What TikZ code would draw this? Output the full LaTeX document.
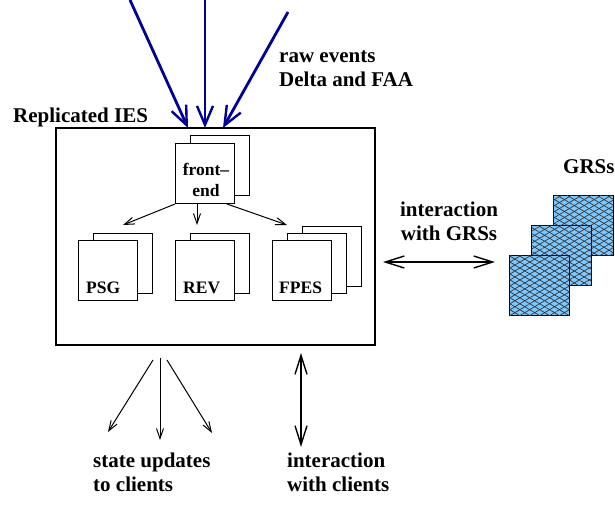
\documentclass[tikz,border=0pt]{standalone}
\usepackage{fontspec}
\setmainfont{Liberation Serif}
\usetikzlibrary{arrows.meta,patterns.meta}

\definecolor{rawblue}{RGB}{0,0,150}
\definecolor{grsblue}{RGB}{125,200,255}

\begin{document}
\begin{tikzpicture}
  [
    x = 1pt, y = -1pt,
    big/.style = {font = \bfseries\fontsize{21}{24}\selectfont, inner sep = 0pt},
    small/.style = {font = \bfseries\fontsize{17.5}{21}\selectfont, inner sep = 0pt},
    card/.style = {draw, fill = white, line width = 1pt, minimum width = 59pt,
                   minimum height = 60pt, inner sep = 0pt},
    grs/.style = {draw, line width = .8pt, fill = grsblue, minimum size = 60pt, inner sep = 0pt,
                  postaction = {pattern = {Lines[angle=31,distance=5.1pt,line width=.7pt]}, pattern color = black!80},
                  postaction = {pattern = {Lines[angle=-31,distance=5.1pt,line width=.7pt]}, pattern color = black!80}},
    rawarrow/.style = {draw = rawblue, line width = 2.8pt, -{Straight Barb[length=19pt,width=16pt,line width=2.4pt]}},
    onearrow/.style = {line width = 1pt, -{Straight Barb[length=10pt,width=7pt]}},
    twoway/.style = {line width = 2.6pt, {Straight Barb[length=19pt,width=12pt,line width=1.4pt]}-{Straight Barb[length=19pt,width=12pt,line width=1.4pt]}},
  ]

  \useasboundingbox (0,0) rectangle (615,509);

  % the replicated IES
  \node[draw, line width = 1.2pt, minimum width = 319pt, minimum height = 217pt] (ies) at (215.5,236.5) {};
  \node[big, anchor = base west] (iestxt) at (13,122) {Replicated IES};

  \node[card] (feback) at (219.5,165.5) {};
  \node[card] (fe) at (205,173.5) {};
  \node[small, align = center, anchor = base] (fetxt) at (206,196) {front--\\end};

  \node[card] (psgback) at (123,263) {};
  \node[card] (psg) at (108,270) {};
  \node[small, anchor = base west] (psgtxt) at (86,293) {PSG};

  \node[card] (revback) at (219.5,263) {};
  \node[card] (rev) at (204.5,270) {};
  \node[small, anchor = base west] (revtxt) at (183,293) {REV};

  \node[card] (fpesbackb) at (331.5,256) {};
  \node[card] (fpesback) at (316.5,263) {};
  \node[card] (fpes) at (301.5,270) {};
  \node[small, anchor = base west] (fpestxt) at (279,293) {FPES};

  \coordinate (topsg) at (123,225);
  \coordinate (torev) at (197,225);
  \coordinate (tofpes) at (287,225);
  \draw[onearrow] (fe.south west) -- (topsg);
  \draw[onearrow] ([xshift=-8pt]fe.south) -- (torev);
  \draw[onearrow] ([xshift=-8pt]fe.south east) -- (tofpes);

  % raw events
  \coordinate (rawa) at (130,0);
  \coordinate (rawb) at (205,0);
  \coordinate (rawc) at (288,12);
  \coordinate (ina) at (188,128);
  \coordinate (inb) at (205,128);
  \coordinate (inc) at (223,128);
  \draw[rawarrow] (rawa) -- (ina);
  \draw[rawarrow] (rawb) -- (inb);
  \draw[rawarrow] (rawc) -- (inc);
  \node[big, align = left, anchor = base west] (rawtxt) at (279,86) {raw events\\Delta and FAA};

  % GRSs
  \node[grs] (grsa) at (583,225) {};
  \node[grs] (grsb) at (561.5,255) {};
  \node[grs] (grsc) at (539.5,285) {};
  \node[big, anchor = base west] (grstxt) at (563,173) {GRSs};

  \coordinate (grsl) at (383,262);
  \coordinate (grsr) at (495,262);
  \draw[twoway] (grsl) -- (grsr);
  \node[big, align = center, anchor = base] (grsia) at (449,240) {interaction\\with GRSs};

  % clients
  \coordinate (upa) at (153,360);
  \coordinate (upb) at (160,358);
  \coordinate (upc) at (167,360);
  \coordinate (cla) at (108,432);
  \coordinate (clb) at (160,440);
  \coordinate (clc) at (212,433);
  \draw[onearrow] (upa) -- (cla);
  \draw[onearrow] (upb) -- (clb);
  \draw[onearrow] (upc) -- (clc);
  \node[big, align = left, anchor = base west] (updtxt) at (93,491) {state updates\\to clients};

  \coordinate (clitop) at (301,353);
  \coordinate (clibot) at (301,447);
  \draw[twoway] (clitop) -- (clibot);
  \node[big, align = left, anchor = base west] (clitxt) at (287,491) {interaction\\with clients};
\end{tikzpicture}
\end{document}
